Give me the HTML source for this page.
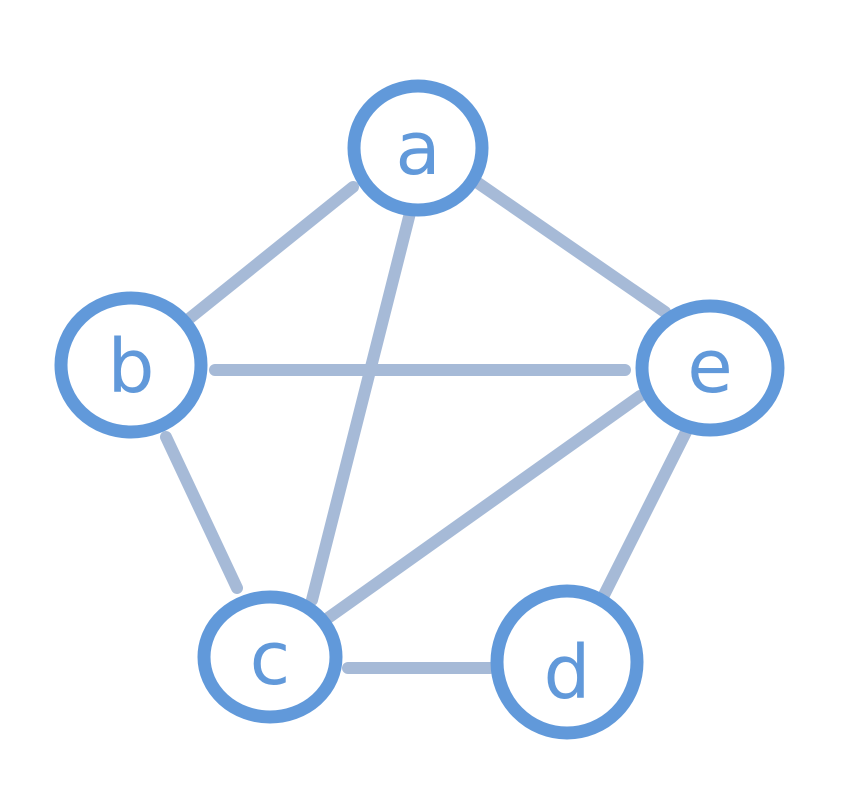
<!DOCTYPE html>
<html><head><meta charset="utf-8"><style>
html,body{margin:0;padding:0;background:#fff;}
svg{display:block;}
</style></head><body>
<svg width="848" height="811" viewBox="0 0 848 811" xmlns="http://www.w3.org/2000/svg">
<g stroke="#a6bad7" stroke-width="12" stroke-linecap="round" fill="none">
<line x1="353" y1="187" x2="190" y2="318"/>
<line x1="478" y1="183" x2="665" y2="312"/>
<line x1="410" y1="213" x2="312" y2="600"/>
<line x1="215" y1="370" x2="625" y2="370"/>
<line x1="166" y1="437" x2="237" y2="588"/>
<line x1="640" y1="396" x2="328" y2="618"/>
<line x1="686" y1="432" x2="598" y2="607"/>
<line x1="348" y1="668" x2="490" y2="668"/>
</g>
<g stroke="#6199da" stroke-width="13" fill="#fff">
<ellipse cx="418" cy="148" rx="64" ry="62"/>
<ellipse cx="131" cy="365" rx="70" ry="67"/>
<ellipse cx="710" cy="368" rx="68" ry="62"/>
<ellipse cx="270" cy="657" rx="66" ry="60"/>
<ellipse cx="567" cy="662" rx="70" ry="71"/>
</g>
<g fill="#6199da" font-family="'DejaVu Sans', 'Liberation Sans', sans-serif" font-size="74" text-anchor="middle">
<text x="418" y="174">a</text>
<text x="131" y="392">b</text>
<text x="710" y="392">e</text>
<text x="270" y="684">c</text>
<text x="567" y="698">d</text>
</g>
</svg>
</body></html>
